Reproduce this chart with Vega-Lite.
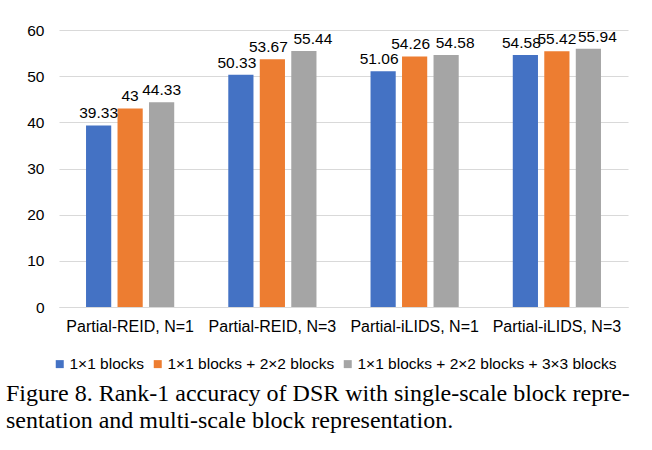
{
  "$schema": "https://vega.github.io/schema/vega-lite/v6.json",
  "width": 569,
  "height": 277,
  "autosize": {"type": "none"},
  "padding": {"left": 59, "top": 30, "right": 24, "bottom": 143},
  "background": "white",
  "config": {"view": {"stroke": null}},
  "title": {
    "text": ["Figure 8. Rank-1 accuracy of DSR with single-scale block repre-", "sentation and multi-scale block representation."],
    "orient": "bottom",
    "anchor": "start",
    "frame": "group",
    "font": "Liberation Serif",
    "fontSize": 24,
    "fontWeight": "normal",
    "color": "black",
    "lineHeight": 27,
    "dx": -53,
    "offset": 9
  },
  "data": {
    "values": [
      {"group": "Partial-REID, N=1", "series": "1×1 blocks", "value": 39.33},
      {"group": "Partial-REID, N=1", "series": "1×1 blocks + 2×2 blocks", "value": 43},
      {"group": "Partial-REID, N=1", "series": "1×1 blocks + 2×2 blocks + 3×3 blocks", "value": 44.33},
      {"group": "Partial-REID, N=3", "series": "1×1 blocks", "value": 50.33},
      {"group": "Partial-REID, N=3", "series": "1×1 blocks + 2×2 blocks", "value": 53.67},
      {"group": "Partial-REID, N=3", "series": "1×1 blocks + 2×2 blocks + 3×3 blocks", "value": 55.44},
      {"group": "Partial-iLIDS, N=1", "series": "1×1 blocks", "value": 51.06},
      {"group": "Partial-iLIDS, N=1", "series": "1×1 blocks + 2×2 blocks", "value": 54.26},
      {"group": "Partial-iLIDS, N=1", "series": "1×1 blocks + 2×2 blocks + 3×3 blocks", "value": 54.58},
      {"group": "Partial-iLIDS, N=3", "series": "1×1 blocks", "value": 54.58},
      {"group": "Partial-iLIDS, N=3", "series": "1×1 blocks + 2×2 blocks", "value": 55.42},
      {"group": "Partial-iLIDS, N=3", "series": "1×1 blocks + 2×2 blocks + 3×3 blocks", "value": 55.94}
    ]
  },
  "encoding": {
    "x": {
      "field": "group",
      "type": "nominal",
      "sort": ["Partial-REID, N=1", "Partial-REID, N=3", "Partial-iLIDS, N=1", "Partial-iLIDS, N=3"],
      "scale": {"paddingInner": 0.38, "paddingOuter": 0.19},
      "axis": {
        "title": null,
        "labelAngle": 0,
        "labelFont": "Liberation Sans",
        "labelFontSize": 16,
        "labelColor": "black",
        "ticks": false,
        "domainColor": "#d9d9d9",
        "domainWidth": 1,
        "labelPadding": 11
      }
    },
    "xOffset": {
      "field": "series",
      "type": "nominal",
      "sort": ["1×1 blocks", "1×1 blocks + 2×2 blocks", "1×1 blocks + 2×2 blocks + 3×3 blocks"],
      "scale": {"paddingInner": 0.2, "paddingOuter": 0}
    },
    "y": {
      "field": "value",
      "type": "quantitative",
      "scale": {"domain": [0, 60]},
      "axis": {
        "title": null,
        "values": [0, 10, 20, 30, 40, 50, 60],
        "domain": false,
        "ticks": false,
        "gridColor": "#d9d9d9",
        "labelFont": "Liberation Sans",
        "labelFontSize": 15.5,
        "labelColor": "black",
        "labelPadding": 15
      }
    },
    "text": {"field": "value", "type": "quantitative"}
  },
  "layer": [
    {
      "mark": {"type": "bar"},
      "encoding": {
        "color": {
          "field": "series",
          "type": "nominal",
          "sort": ["1×1 blocks", "1×1 blocks + 2×2 blocks", "1×1 blocks + 2×2 blocks + 3×3 blocks"],
          "scale": {"range": ["#4472C4", "#ED7D31", "#A5A5A5"]},
          "legend": {
            "title": null,
            "orient": "none",
            "direction": "horizontal",
            "legendX": -7,
            "legendY": 326,
            "symbolType": "square",
            "symbolSize": 64,
            "symbolStrokeWidth": 0,
            "labelFont": "Liberation Sans",
            "labelFontSize": 15.5,
            "labelColor": "black",
            "labelOffset": 2,
            "columnPadding": 5,
            "labelLimit": 400
          }
        }
      }
    },
    {
      "transform": [{"filter": "datum.group == 'Partial-REID, N=1' || (datum.group == 'Partial-iLIDS, N=3' && datum.series == '1×1 blocks + 2×2 blocks')"}],
      "mark": {"type": "text", "baseline": "alphabetic", "dy": -7, "font": "Liberation Sans", "fontSize": 15.5, "color": "black"}
    },
    {
      "transform": [{"filter": "datum.group != 'Partial-REID, N=1' && (datum.series == '1×1 blocks' || (datum.series == '1×1 blocks + 2×2 blocks' && datum.group != 'Partial-iLIDS, N=3'))"}],
      "mark": {"type": "text", "baseline": "alphabetic", "dy": -7, "dx": -4, "font": "Liberation Sans", "fontSize": 15.5, "color": "black"}
    },
    {
      "transform": [{"filter": "datum.group != 'Partial-REID, N=1' && datum.series == '1×1 blocks + 2×2 blocks + 3×3 blocks'"}],
      "mark": {"type": "text", "baseline": "alphabetic", "dy": -7, "dx": 9, "font": "Liberation Sans", "fontSize": 15.5, "color": "black"}
    }
  ]
}
